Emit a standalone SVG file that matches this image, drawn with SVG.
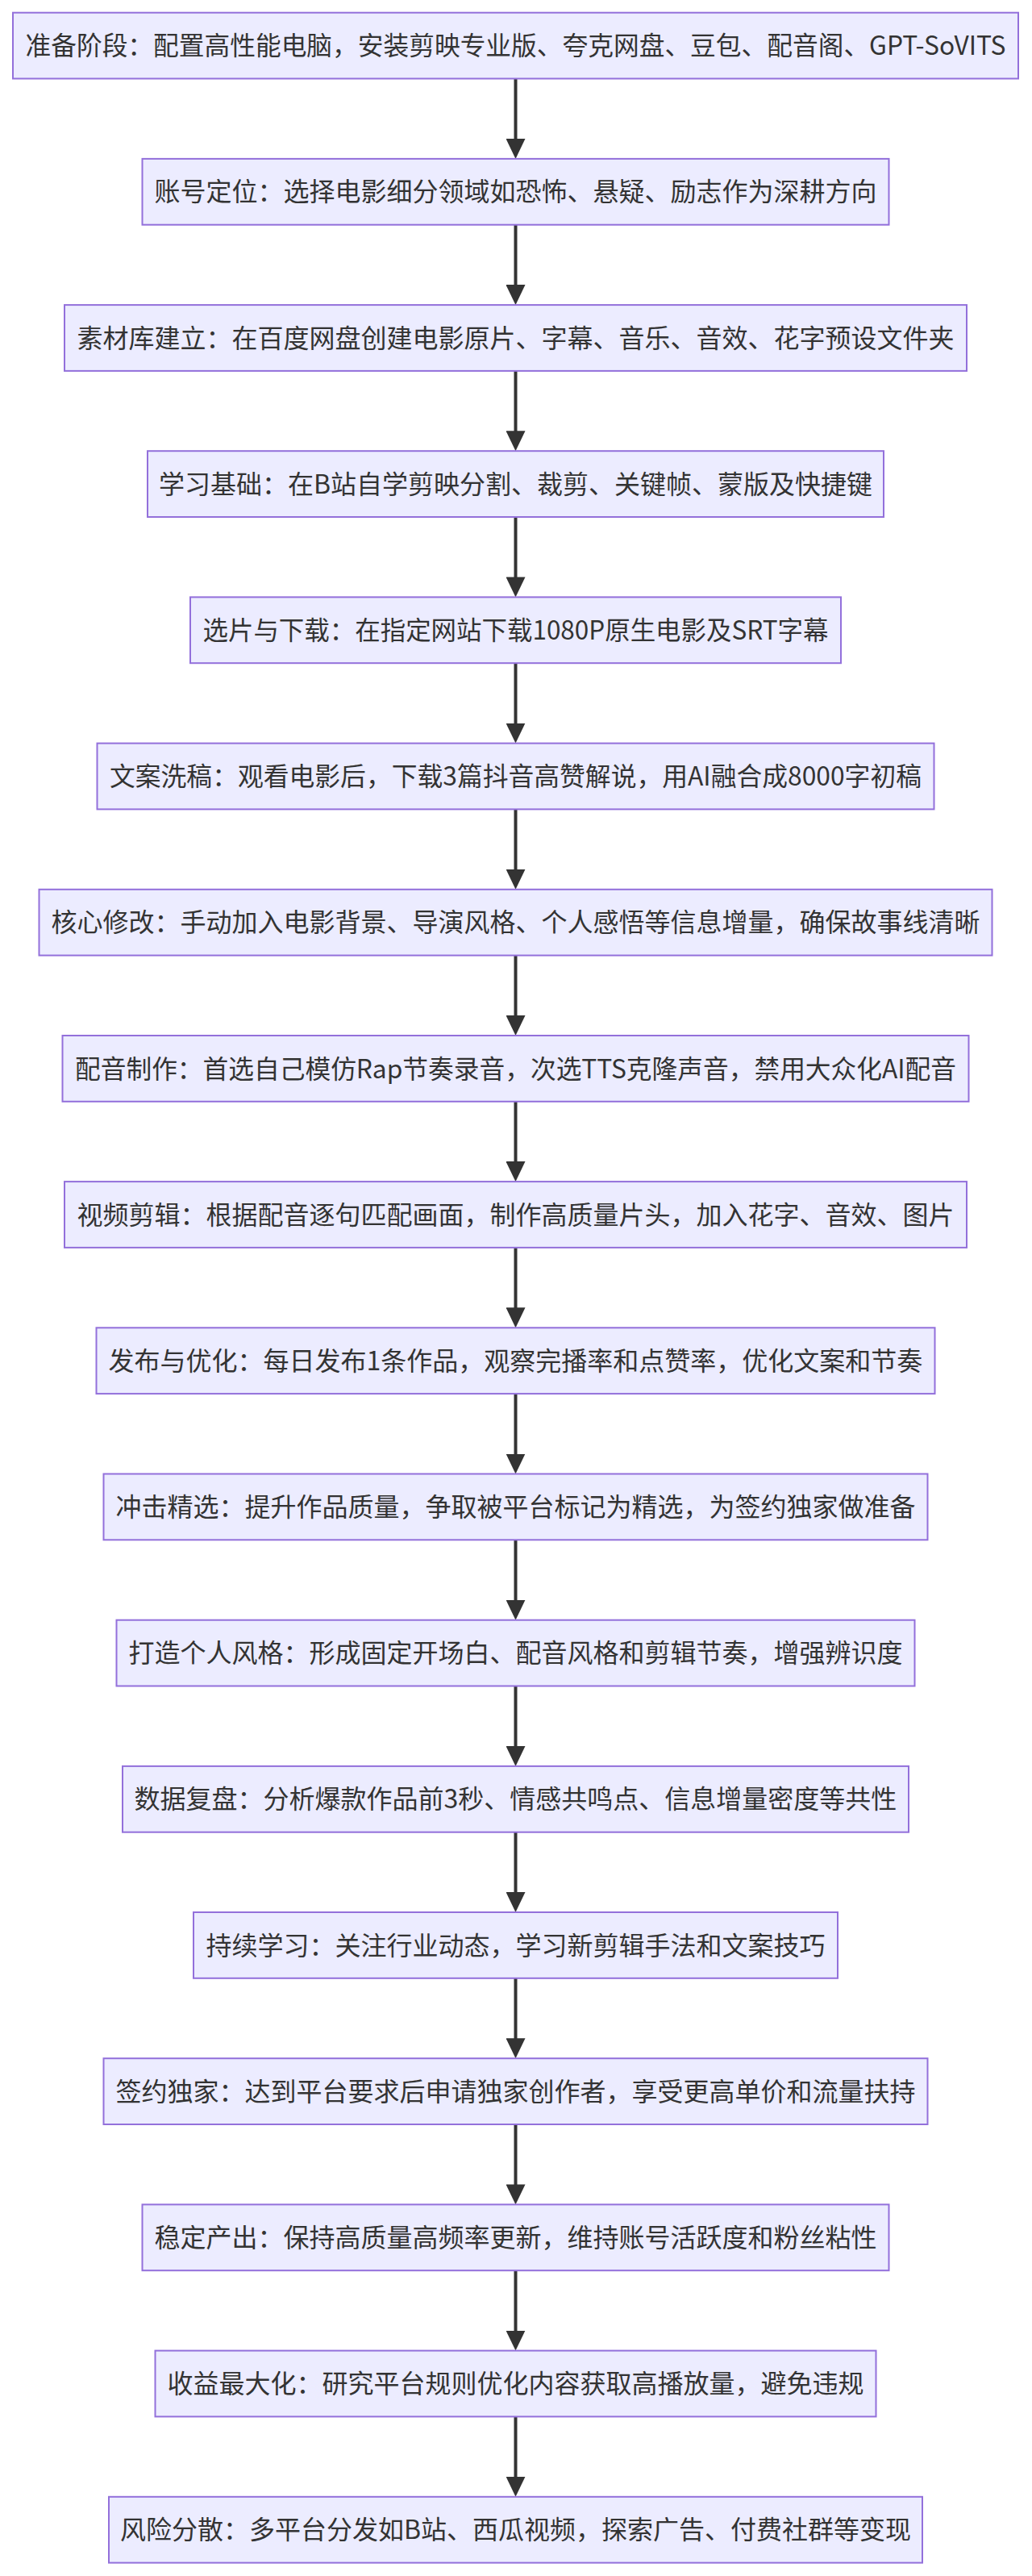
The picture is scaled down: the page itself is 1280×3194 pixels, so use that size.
<svg xmlns="http://www.w3.org/2000/svg" width="1280" height="3194" viewBox="0 0 1280 3194">
<style>
.node rect{fill:#ECECFF;stroke:#9370DB;stroke-width:2}
.node text{font-family:"Noto Sans CJK SC","Noto Sans",sans-serif;font-size:32px;fill:#333333;text-anchor:middle}
.edge{stroke:#333333;stroke-width:4;fill:none}
</style>
<defs>
<marker id="arrow" viewBox="0 0 25 24" markerUnits="userSpaceOnUse" markerWidth="25" markerHeight="24" refX="13" refY="12" orient="auto" preserveAspectRatio="none">
<path d="M0,0 L25,12 L0,24 z" fill="#333333"/>
</marker>
</defs>
<rect width="1280" height="3194" fill="#ffffff"/>
<g id="connectors">
<line class="edge" x1="639.5" y1="97.5" x2="639.5" y2="184.9" marker-end="url(#arrow)"/>
<line class="edge" x1="639.5" y1="278.7" x2="639.5" y2="366.1" marker-end="url(#arrow)"/>
<line class="edge" x1="639.5" y1="459.9" x2="639.5" y2="547.2" marker-end="url(#arrow)"/>
<line class="edge" x1="639.5" y1="641.0" x2="639.5" y2="728.4" marker-end="url(#arrow)"/>
<line class="edge" x1="639.5" y1="822.2" x2="639.5" y2="909.6" marker-end="url(#arrow)"/>
<line class="edge" x1="639.5" y1="1003.4" x2="639.5" y2="1090.8" marker-end="url(#arrow)"/>
<line class="edge" x1="639.5" y1="1184.6" x2="639.5" y2="1272.0" marker-end="url(#arrow)"/>
<line class="edge" x1="639.5" y1="1365.8" x2="639.5" y2="1453.1" marker-end="url(#arrow)"/>
<line class="edge" x1="639.5" y1="1546.9" x2="639.5" y2="1634.3" marker-end="url(#arrow)"/>
<line class="edge" x1="639.5" y1="1728.1" x2="639.5" y2="1815.5" marker-end="url(#arrow)"/>
<line class="edge" x1="639.5" y1="1909.3" x2="639.5" y2="1996.7" marker-end="url(#arrow)"/>
<line class="edge" x1="639.5" y1="2090.5" x2="639.5" y2="2177.9" marker-end="url(#arrow)"/>
<line class="edge" x1="639.5" y1="2271.7" x2="639.5" y2="2359.0" marker-end="url(#arrow)"/>
<line class="edge" x1="639.5" y1="2452.8" x2="639.5" y2="2540.2" marker-end="url(#arrow)"/>
<line class="edge" x1="639.5" y1="2634.0" x2="639.5" y2="2721.4" marker-end="url(#arrow)"/>
<line class="edge" x1="639.5" y1="2815.2" x2="639.5" y2="2902.6" marker-end="url(#arrow)"/>
<line class="edge" x1="639.5" y1="2996.4" x2="639.5" y2="3083.8" marker-end="url(#arrow)"/>
</g>
<g id="n1" class="node"><rect x="16" y="15.7" width="1247" height="81.8"/><text x="639.5" y="68.2" textLength="1216" lengthAdjust="spacingAndGlyphs">准备阶段：配置高性能电脑，安装剪映专业版、夸克网盘、豆包、配音阁、GPT-SoVITS</text></g>
<g id="n2" class="node"><rect x="176.5" y="196.9" width="926" height="81.8"/><text x="639.5" y="249.4">账号定位：选择电影细分领域如恐怖、悬疑、励志作为深耕方向</text></g>
<g id="n3" class="node"><rect x="80" y="378.1" width="1119" height="81.8"/><text x="639.5" y="430.6">素材库建立：在百度网盘创建电影原片、字幕、音乐、音效、花字预设文件夹</text></g>
<g id="n4" class="node"><rect x="183" y="559.2" width="913" height="81.8"/><text x="639.5" y="611.7">学习基础：在B站自学剪映分割、裁剪、关键帧、蒙版及快捷键</text></g>
<g id="n5" class="node"><rect x="236" y="740.4" width="807" height="81.8"/><text x="639.5" y="792.9" textLength="776" lengthAdjust="spacingAndGlyphs">选片与下载：在指定网站下载1080P原生电影及SRT字幕</text></g>
<g id="n6" class="node"><rect x="120.5" y="921.6" width="1038" height="81.8"/><text x="639.5" y="974.1" textLength="1007" lengthAdjust="spacingAndGlyphs">文案洗稿：观看电影后，下载3篇抖音高赞解说，用AI融合成8000字初稿</text></g>
<g id="n7" class="node"><rect x="48.5" y="1102.8" width="1182" height="81.8"/><text x="639.5" y="1155.3">核心修改：手动加入电影背景、导演风格、个人感悟等信息增量，确保故事线清晰</text></g>
<g id="n8" class="node"><rect x="77.5" y="1284.0" width="1124" height="81.8"/><text x="639.5" y="1336.5" textLength="1093" lengthAdjust="spacingAndGlyphs">配音制作：首选自己模仿Rap节奏录音，次选TTS克隆声音，禁用大众化AI配音</text></g>
<g id="n9" class="node"><rect x="80" y="1465.1" width="1119" height="81.8"/><text x="639.5" y="1517.6">视频剪辑：根据配音逐句匹配画面，制作高质量片头，加入花字、音效、图片</text></g>
<g id="n10" class="node"><rect x="119.5" y="1646.3" width="1040" height="81.8"/><text x="639.5" y="1698.8">发布与优化：每日发布1条作品，观察完播率和点赞率，优化文案和节奏</text></g>
<g id="n11" class="node"><rect x="128.5" y="1827.5" width="1022" height="81.8"/><text x="639.5" y="1880.0">冲击精选：提升作品质量，争取被平台标记为精选，为签约独家做准备</text></g>
<g id="n12" class="node"><rect x="144.5" y="2008.7" width="990" height="81.8"/><text x="639.5" y="2061.2">打造个人风格：形成固定开场白、配音风格和剪辑节奏，增强辨识度</text></g>
<g id="n13" class="node"><rect x="152" y="2189.9" width="975" height="81.8"/><text x="639.5" y="2242.4">数据复盘：分析爆款作品前3秒、情感共鸣点、信息增量密度等共性</text></g>
<g id="n14" class="node"><rect x="240" y="2371.0" width="799" height="81.8"/><text x="639.5" y="2423.5">持续学习：关注行业动态，学习新剪辑手法和文案技巧</text></g>
<g id="n15" class="node"><rect x="128.5" y="2552.2" width="1022" height="81.8"/><text x="639.5" y="2604.7">签约独家：达到平台要求后申请独家创作者，享受更高单价和流量扶持</text></g>
<g id="n16" class="node"><rect x="176.5" y="2733.4" width="926" height="81.8"/><text x="639.5" y="2785.9">稳定产出：保持高质量高频率更新，维持账号活跃度和粉丝粘性</text></g>
<g id="n17" class="node"><rect x="192.5" y="2914.6" width="894" height="81.8"/><text x="639.5" y="2967.1">收益最大化：研究平台规则优化内容获取高播放量，避免违规</text></g>
<g id="n18" class="node"><rect x="135" y="3095.8" width="1009" height="81.8"/><text x="639.5" y="3148.3">风险分散：多平台分发如B站、西瓜视频，探索广告、付费社群等变现</text></g>
</svg>
